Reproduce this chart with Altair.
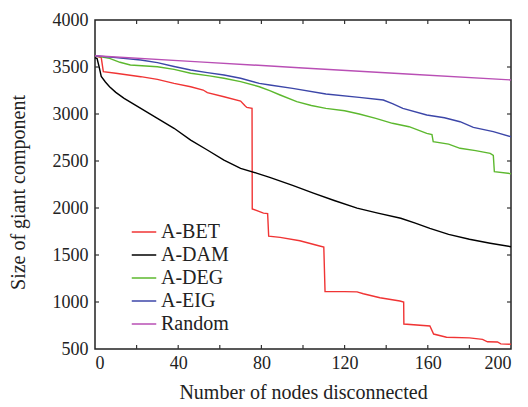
import altair as alt
import pandas as pd

series_names = ["A-BET", "A-DAM", "A-DEG", "A-EIG", "Random"]
series_colors = ["#f03434", "#000000", "#5cb82e", "#3c46a8", "#b94fb5"]

bet_x = [0, 3, 4, 10, 22, 30, 38, 46, 52, 54, 62, 70, 72, 73, 75.5, 75.6, 81, 83, 83.5, 89, 98.5, 108, 110, 110.6, 120, 126, 129, 137, 146.6, 148.4, 148.5, 161, 162.8, 169, 180, 186.3, 188.7, 193.5, 195.1, 200]
bet_y = [3620, 3600, 3450, 3433, 3397, 3369, 3326, 3290, 3255, 3227, 3184, 3138, 3090, 3070, 3060, 1990, 1945, 1940, 1700, 1688, 1652, 1596, 1585, 1110, 1110, 1108, 1088, 1045, 1010, 1000, 766, 745, 659, 625, 618, 602, 577, 575, 555, 550]

dam_x = [0, 1, 2, 3, 5, 7, 10, 14, 22, 30, 38, 46, 54, 62, 70, 78, 84, 95, 105, 115, 126, 136, 147, 154, 161, 170, 180, 190, 200]
dam_y = [3600, 3590, 3500, 3400, 3340, 3290, 3230, 3167, 3060, 2954, 2848, 2723, 2617, 2510, 2422, 2369, 2326, 2240, 2159, 2080, 1999, 1945, 1891, 1840, 1784, 1720, 1667, 1625, 1588]

deg_x = [0, 7, 12, 17, 30, 38, 46, 55, 62, 70, 79, 84, 89, 97, 104, 111, 120, 127, 135, 143, 151, 159.5, 162, 162.6, 170, 175.5, 183, 190, 191.5, 192, 200]
deg_y = [3620, 3592, 3550, 3521, 3503, 3475, 3433, 3405, 3380, 3344, 3290, 3248, 3202, 3131, 3090, 3060, 3035, 3000, 2954, 2901, 2865, 2794, 2780, 2705, 2680, 2635, 2610, 2582, 2560, 2386, 2365]

eig_x = [0, 10, 22, 30, 38, 46, 54, 62, 70, 79, 84, 95, 111, 127, 138.6, 143, 148, 159.5, 168, 175.5, 181.9, 191.5, 200]
eig_y = [3620, 3600, 3574, 3546, 3505, 3468, 3440, 3415, 3380, 3326, 3308, 3273, 3213, 3177, 3149, 3110, 3060, 2989, 2960, 2918, 2858, 2812, 2758]

rnd_x = [0, 50, 100, 150, 200]
rnd_y = [3620, 3555, 3490, 3425, 3362]

x_ticks = [20, 40, 60, 80, 100, 120, 140, 160, 180]
x_labels = [0, 40, 80, 120, 160, 200]
y_ticks = [1000, 1500, 2000, 2500, 3000, 3500]
y_labels = [500, 1000, 1500, 2000, 2500, 3000, 3500, 4000]

rows = []
for name, xs, ys in zip(series_names,
                        [bet_x, dam_x, deg_x, eig_x, rnd_x],
                        [bet_y, dam_y, deg_y, eig_y, rnd_y]):
    for i, (a, b) in enumerate(zip(xs, ys)):
        rows.append({"series": name, "x": a, "y": b, "i": i})
df = pd.DataFrame(rows)
xt = pd.DataFrame({"x": x_ticks})
yt = pd.DataFrame({"y": y_ticks})

W, H = 416, 329
T = 4  # inward tick length
FONT = "Liberation Serif, Times New Roman, serif"
TICK_COLOR = "#333"

xscale = alt.Scale(domain=[0, 200], nice=False, zero=False)
yscale = alt.Scale(domain=[500, 4000], nice=False, zero=False)

main = alt.Chart(df).mark_line(strokeWidth=1.4).encode(
    x=alt.X("x:Q", scale=xscale,
            axis=alt.Axis(orient="bottom", values=x_labels, format="d",
                          tickSize=0, ticks=False, domain=False, grid=False,
                          labelFont=FONT, labelFontSize=18, labelColor="#222",
                          labelPadding=5,
                          title="Number of nodes disconnected",
                          titleFont=FONT, titleFontSize=20, titleFontWeight="normal",
                          titleColor="#222", titlePadding=10)),
    y=alt.Y("y:Q", scale=yscale,
            axis=alt.Axis(orient="left", values=y_labels, format="d",
                          tickSize=0, ticks=False, domain=False, grid=False,
                          labelFont=FONT, labelFontSize=18, labelColor="#222",
                          labelPadding=7,
                          title="Size of giant component", titleY=172,
                          titleFont=FONT, titleFontSize=20, titleFontWeight="normal",
                          titleColor="#222", titlePadding=24)),
    color=alt.Color("series:N", scale=alt.Scale(domain=series_names, range=series_colors),
                    legend=alt.Legend(title=None, orient="none", legendX=36, legendY=199,
                                      symbolType="stroke", symbolSize=600,
                                      symbolStrokeWidth=1.5, labelFont=FONT,
                                      labelFontSize=20, labelColor="#222",
                                      rowPadding=-4, labelOffset=4)),
    order="i:Q",
)

tick_mark = dict(color=TICK_COLOR, strokeWidth=1.2)

x_bottom = alt.Chart(xt).mark_rule(**tick_mark).encode(
    x=alt.X("x:Q", scale=xscale),
    y=alt.value(H), y2=alt.value(H - T))
x_top = alt.Chart(xt).mark_rule(**tick_mark).encode(
    x=alt.X("x:Q", scale=xscale),
    y=alt.value(0), y2=alt.value(T))
y_left = alt.Chart(yt).mark_rule(**tick_mark).encode(
    y=alt.Y("y:Q", scale=yscale),
    x=alt.value(0), x2=alt.value(T))
y_right = alt.Chart(yt).mark_rule(**tick_mark).encode(
    y=alt.Y("y:Q", scale=yscale),
    x=alt.value(W), x2=alt.value(W - T))

chart = alt.layer(main, x_bottom, x_top, y_left, y_right).properties(
    width=W, height=H,
    autosize=alt.AutoSizeParams(type="none"),
    padding={"left": 95, "top": 20, "right": 17, "bottom": 58},
    background="white",
).configure_view(stroke="#222", strokeWidth=1.5)

chart.save("out.html", embed_options={"renderer": "svg", "actions": False})
